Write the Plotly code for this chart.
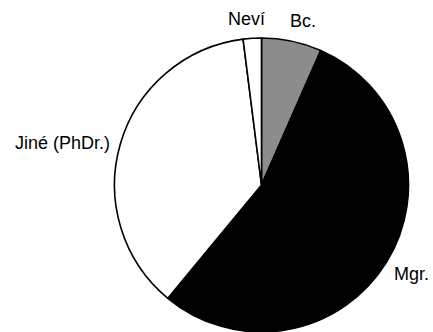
import plotly.graph_objects as go

labels = ["Bc.", "Mgr.", "Jiné (PhDr.)", "Neví"]
values = [6.6, 54.4, 37.0, 2.0]
colors = ["#8c8c8c", "#000000", "#ffffff", "#ffffff"]

# label placement (paper coords)
label_pos = {
    "Bc.": (303 / 433, 1 - 21 / 332),
    "Mgr.": (411 / 433, 1 - 274 / 332),
    "Jiné (PhDr.)": (62 / 433, 1 - 142.5 / 332),
    "Neví": (246 / 433, 1 - 19 / 332),
}

fig = go.Figure(
    go.Pie(
        labels=labels,
        values=values,
        sort=False,
        direction="clockwise",
        rotation=0,
        textinfo="none",
        hoverinfo="label+percent",
        marker=dict(colors=colors, line=dict(color="#000000", width=1.6)),
        domain=dict(x=[114 / 433, 409 / 433], y=[0, 294 / 332]),
        showlegend=False,
    )
)

for lab in labels:
    x, y = label_pos[lab]
    fig.add_annotation(
        x=x, y=y, xref="paper", yref="paper", text=lab, showarrow=False,
        xanchor="center", yanchor="middle",
        font=dict(family="Liberation Sans, Arial, sans-serif", size=18, color="#000000"),
    )

fig.update_layout(
    width=433, height=332,
    margin=dict(l=0, r=0, t=0, b=0),
    paper_bgcolor="#ffffff", plot_bgcolor="#ffffff",
)

fig.write_html(
    "out.html",
    config={"displayModeBar": False},
    post_script="document.body.style.margin='0';document.body.style.overflow='hidden';",
)
